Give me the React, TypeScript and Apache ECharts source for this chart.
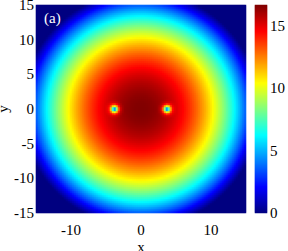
import React, { useEffect, useRef } from "react";
import * as echarts from "echarts";

// Axis ranges and tick labels
const X_RANGE = [-15, 15];
const Y_RANGE = [-15, 15];
const X_TICKS = [-10, 0, 10];
const Y_TICKS = [-15, -10, -5, 0, 5, 10, 15];
const CBAR_TICKS = [0, 5, 10, 15];
const DENSITY_MAX = 16.7;

// Radial density profile (radius -> value)
const RADII = [0, 1, 2, 3, 4, 5, 6, 7, 8, 9, 10, 11, 12, 13, 14, 15, 16, 17, 22];
const DENSITY = [16.7, 16.64, 16.47, 16.17, 15.77, 15.24, 14.6, 13.84, 12.96, 11.97, 10.86, 9.63, 8.29, 6.83, 5.26, 3.56, 1.75, 0, 0];

// Two vortices and their core shape (distance -> density factor)
const VORTEX_X = [-3.75, 3.75];
const VORTEX_Y = [0, 0];
const CORE_DIST = [0, 0.2, 0.4, 0.6, 0.8, 1.0, 1.4];
const CORE_FACTOR = [0.15, 0.35, 0.6, 0.8, 0.92, 0.97, 1];

// jet colormap
const JET = ["#000080", "#0000ff", "#0080ff", "#00ffff", "#80ff80", "#ffff00", "#ff8000", "#ff0000", "#800000"];

const NX = 105;
const NY = 104;
const NC = 208;

function lookup(xs: number[], ys: number[], v: number): number {
  if (v <= xs[0]) return ys[0];
  for (let i = 1; i < xs.length; i++) {
    if (v <= xs[i]) {
      const t = (v - xs[i - 1]) / (xs[i] - xs[i - 1]);
      return ys[i - 1] + t * (ys[i] - ys[i - 1]);
    }
  }
  return ys[ys.length - 1];
}

function buildField() {
  const data: number[][] = [];
  const xCats: string[] = [];
  const yCats: string[] = [];
  const dx = (X_RANGE[1] - X_RANGE[0]) / NX;
  const dy = (Y_RANGE[1] - Y_RANGE[0]) / NY;
  for (let i = 0; i < NX; i++) xCats.push(String(i));
  for (let j = 0; j < NY; j++) yCats.push(String(j));
  for (let i = 0; i < NX; i++) {
    const x = X_RANGE[0] + (i + 0.5) * dx;
    for (let j = 0; j < NY; j++) {
      const y = Y_RANGE[0] + (j + 0.5) * dy;
      let v = lookup(RADII, DENSITY, Math.sqrt(x * x + y * y));
      for (let k = 0; k < VORTEX_X.length; k++) {
        const d = Math.hypot(x - VORTEX_X[k], y - VORTEX_Y[k]);
        v *= lookup(CORE_DIST, CORE_FACTOR, d);
      }
      data.push([i, j, v]);
    }
  }
  return { data, xCats, yCats };
}

function buildBar() {
  const data: number[][] = [];
  const cats: string[] = [];
  for (let j = 0; j < NC; j++) {
    cats.push(String(j));
    data.push([0, j, ((j + 0.5) / NC) * DENSITY_MAX]);
  }
  return { data, cats };
}

const FONT = "'Liberation Serif', 'Times New Roman', serif";

export default function App() {
  const ref = useRef<HTMLDivElement>(null);
  useEffect(() => {
    if (!ref.current) return;
    const chart = echarts.init(ref.current, undefined, { renderer: "svg" });
    const field = buildField();
    const bar = buildBar();
    const lbl = { fontFamily: FONT, fontSize: 15, color: "#000" };
    const hiddenLine = { show: false, onZero: false };
    chart.setOption({
      animation: false,
      backgroundColor: "#fff",
      grid: [
        { left: 36, top: 5, width: 210, height: 208, containLabel: false, outerBoundsMode: "none" },
        { left: 255, top: 5, width: 12, height: 208, containLabel: false, outerBoundsMode: "none" },
      ],
      xAxis: [
        { gridIndex: 0, type: "category", data: field.xCats, position: "top", show: false },
        {
          gridIndex: 0, type: "value", position: "bottom", min: X_RANGE[0], max: X_RANGE[1], interval: 5,
          axisLine: hiddenLine, axisTick: { show: false }, splitLine: { show: false },
          axisLabel: { ...lbl, margin: 9, formatter: (v: number) => (X_TICKS.includes(v) ? String(v) : "") },
          name: "x", nameLocation: "middle", nameGap: 26, nameMoveOverlap: false,
          nameTextStyle: { ...lbl },
        },
        { gridIndex: 1, type: "category", data: ["c"], show: false },
      ],
      yAxis: [
        { gridIndex: 0, type: "category", data: field.yCats, position: "right", show: false },
        {
          gridIndex: 0, type: "value", position: "left", min: Y_RANGE[0], max: Y_RANGE[1], interval: 5,
          axisLine: hiddenLine, axisTick: { show: false }, splitLine: { show: false },
          axisLabel: { ...lbl, margin: 2, formatter: (v: number) => (Y_TICKS.includes(v) ? String(v) : "") },
          name: "y", nameLocation: "middle", nameGap: 26, nameMoveOverlap: false,
          nameTextStyle: { ...lbl },
        },
        { gridIndex: 1, type: "category", data: bar.cats, position: "left", show: false },
        {
          gridIndex: 1, type: "value", min: 0, max: DENSITY_MAX, interval: 5, position: "right",
          axisLine: hiddenLine, axisTick: { show: false }, splitLine: { show: false },
          axisLabel: {
            ...lbl, margin: 3, showMaxLabel: false,
            formatter: (v: number) => (CBAR_TICKS.includes(v) ? String(v) : ""),
          },
        },
      ],
      visualMap: {
        type: "continuous", show: false, min: 0, max: DENSITY_MAX, seriesIndex: [0, 1],
        inRange: { color: JET },
      },
      series: [
        {
          type: "heatmap", xAxisIndex: 0, yAxisIndex: 0, data: field.data,
          progressive: 0, emphasis: { disabled: true }, silent: true,
        },
        {
          type: "heatmap", xAxisIndex: 2, yAxisIndex: 2, data: bar.data,
          progressive: 0, emphasis: { disabled: true }, silent: true,
        },
      ],
      graphic: [
        {
          type: "text", left: 44, top: 10, z: 100,
          style: { text: "(a)", fill: "#fff", font: `15px ${FONT}` },
        },
      ],
    });
    return () => chart.dispose();
  }, []);
  return <div ref={ref} style={{ position: "fixed", left: 0, top: 0, width: 288, height: 251 }} />;
}
